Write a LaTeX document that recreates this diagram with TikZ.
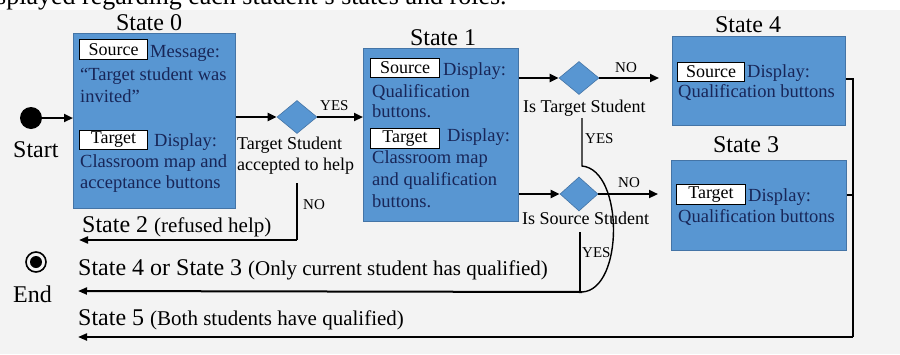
\documentclass[tikz,border=0pt]{standalone}
\usepackage{fontspec}
\setmainfont{Liberation Serif}
\usetikzlibrary{shapes.geometric,arrows.meta}
\definecolor{bg}{RGB}{243,243,243}
\definecolor{boxfill}{RGB}{88,150,210}
\definecolor{boxedge}{RGB}{68,116,166}
\definecolor{navy}{RGB}{24,38,88}
\newcommand{\fs}[1]{\fontsize{#1}{#1}\selectfont}
\tikzset{
  stbox/.style={draw=boxedge, fill=boxfill, line width=0.8pt, anchor=north west, inner sep=0pt},
  tag/.style={draw=black, fill=white, line width=1pt, anchor=north west, inner sep=0pt,
              minimum width=68pt, minimum height=19pt, font=\fs{18}, text=black},
  btxt/.style={anchor=base west, inner sep=0pt, text=navy, font=\fs{18.5}},
  title/.style={anchor=base, inner sep=0pt, font=\fs{24}},
  lbl/.style={anchor=base west, inner sep=0pt, font=\fs{18}},
  yn/.style={anchor=base west, inner sep=0pt, font=\fs{15}},
  big/.style={anchor=base west, inner sep=0pt, font=\fs{24}},
  dia/.style={diamond, draw=boxedge, fill=boxfill, line width=0.6pt, inner sep=0pt,
              minimum width=40pt, minimum height=33pt},
  arr/.style={line width=2.2pt, -{Triangle[length=9pt,width=8pt]}},
  thin/.style={line width=1.4pt},
  thinarr/.style={line width=2pt, -{Triangle[length=9pt,width=7pt]}},
}
\begin{document}
\begin{tikzpicture}[x=1pt,y=-1pt]
\useasboundingbox (0,0) rectangle (900,354);
\fill[white] (0,0) rectangle (900,354);
\fill[bg] (0,10) rectangle (900,354);
\begin{scope}
\clip (0,0) rectangle (900,354);
\node[anchor=base west, inner sep=0pt, font=\fs{26}] (cut) at (-4,4) {splayed regarding each student's states and roles.};
\end{scope}

% Start / End
\fill (31,118) circle (11pt);
\coordinate (st) at (42,118);
\node[big] (start) at (13,157) {Start};
\draw[line width=1.6pt] (36,262) circle (10pt);
\fill (36,262) circle (6pt);
\node[big] (end) at (13,302) {End};

% State 0
\node[title] (t0) at (149,30) {State 0};
\node[stbox, minimum width=162pt, minimum height=175pt] (s0) at (73,33) {};
\node[tag, minimum height=20pt] (src0) at (79,39) {Source};
\node[btxt] (m0) at (150,57) {Message:};
\node[btxt] (m1) at (80,80) {“Target student was};
\node[btxt] (m2) at (80,102) {invited”};
\node[tag] (tg0) at (79,130) {Target};
\node[btxt] (m3) at (154,146) {Display:};
\node[btxt] (m4) at (80,167) {Classroom map and};
\node[btxt] (m5) at (80,188) {acceptance buttons};

% State 1
\node[title] (t1) at (443,45) {State 1};
\node[stbox, minimum width=155pt, minimum height=173pt] (s1) at (363,48) {};
\node[tag, minimum width=69pt] (src1) at (370,58) {Source};
\node[btxt] (n0) at (443,75) {Display:};
\node[btxt] (n1) at (372,97) {Qualification};
\node[btxt] (n2) at (372,117) {buttons.};
\node[tag, minimum width=69pt, minimum height=20pt] (tg1) at (370,128) {Target};
\node[btxt] (n3) at (447,141) {Display:};
\node[btxt] (n4) at (372,163) {Classroom map};
\node[btxt] (n5) at (372,185) {and qualification};
\node[btxt] (n6) at (372,207) {buttons.};

% State 4
\node[title] (t4) at (748,32) {State 4};
\node[stbox, minimum width=173pt, minimum height=89pt] (s4) at (672,36) {};
\node[tag, minimum width=67pt] (src4) at (677,62) {Source};
\node[btxt] (p0) at (747,77) {Display:};
\node[btxt] (p1) at (678,97) {Qualification buttons};

% State 3
\node[title] (t3) at (746,152) {State 3};
\node[stbox, minimum width=175pt, minimum height=90pt] (s3) at (671,160) {};
\node[tag, minimum width=69pt, minimum height=20pt] (tg3) at (676,184) {Target};
\node[btxt] (q0) at (748,201) {Display:};
\node[btxt] (q1) at (678,222) {Qualification buttons};

% Decisions
\node[dia] (d1) at (297,117) {};
\node[lbl] (l1a) at (237,149) {Target Student};
\node[lbl] (l1b) at (237,170) {accepted to help};
\node[yn] (y1) at (320,110) {YES};
\node[yn] (no1) at (303,209) {NO};

\node[dia] (d2) at (579,78) {};
\node[lbl] (l2) at (523,112) {Is Target Student};
\node[yn] (no2) at (615,72) {NO};
\node[yn] (y2) at (585,143) {YES};

\node[dia, minimum width=38pt, minimum height=34pt] (d3) at (579,194) {};
\node[lbl] (l3) at (522,224) {Is Source Student};
\node[yn] (no3) at (618,187) {NO};
\node[yn] (y3) at (582,257) {YES};

% arrows
\draw[arr] (st) -- (s0.west |- st);
\draw[arr] (s0.east |- d1.west) -- (d1.west);
\draw[arr] (d1.east) -- (s1.west |- d1.east);
\draw[arr] (s1.east |- d2.west) -- (d2.west);
\draw[arr, shorten >=13pt] (d2.east) -- (s4.west |- d2.east);
\draw[arr] (s1.east |- d3.west) -- (d3.west);
\draw[arr, shorten >=13pt] (d3.east) -- (s3.west |- d3.east);

% State 2 path
\coordinate (n1top) at (297,183);
\coordinate (n1bot) at (297,240);
\coordinate (e2) at (79,240);
\draw[thin] (n1top) -- (n1bot);
\draw[thinarr] (n1bot) -- (e2);
\node[big] (st2) at (82,232) {State 2 {\fs{21}(refused help)}};

% State 4 or 3 path
\coordinate (y2top) at (582,118);
\coordinate (y2mid) at (582,166);
\coordinate (j) at (582,292);
\coordinate (y3top) at (580,232);
\coordinate (e43) at (78,291);
\draw[thin] (y2top) -- (y2mid) .. controls (624,170) and (624,290) .. (j);
\draw[thin] (y3top) -- (580,292);
\draw[thinarr] (j) -- (e43);
\node[big] (st43) at (78,275) {State 4 or State 3 {\fs{21}(Only current student has qualified)}};

% State 5 path
\coordinate (r4) at (853,79);
\coordinate (r3) at (853,195);
\coordinate (rb) at (853,337);
\coordinate (e5) at (78,337);
\draw[thin] (s4.east |- r4) -- (r4) -- (rb);
\draw[thin] (s3.east |- r3) -- (r3);
\draw[thinarr] (rb) -- (e5);
\node[big] (st5) at (78,325) {State 5 {\fs{21}(Both students have qualified)}};
\end{tikzpicture}
\end{document}
